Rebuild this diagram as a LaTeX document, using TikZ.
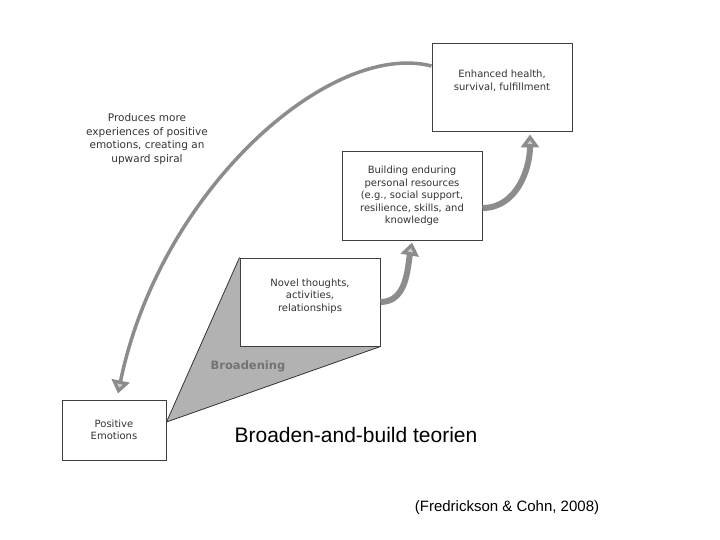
\documentclass[tikz,border=0pt]{standalone}
\usepackage{fontspec}
\setmainfont{DejaVu Sans}
\newfontfamily\capfont{Liberation Sans}
\usetikzlibrary{arrows.meta,positioning,calc,backgrounds}

\tikzset{
  stage/.style={draw=black!75, line width=1pt, fill=white, align=center,
    font=\fontsize{10}{12.5}\selectfont, text=black!80, inner sep=3pt},
  spiral/.style={draw=black!45, line width=#1, -{Triangle[length=13pt,width=18pt,fill=black!20]}},
}

\begin{document}
\begin{tikzpicture}[x=1pt, y=-1pt]
    \useasboundingbox (0,0) rectangle (720,540);

    % Stages
    \node[stage, minimum width=104pt, minimum height=60pt] (pos) at (114,430) {Positive\\Emotions};
    \node[stage, minimum width=140pt, minimum height=88pt, text depth=14pt] (novel) at (310,302) {Novel thoughts,\\activities,\\relationships};
    \node[stage, minimum width=140pt, minimum height=88pt] (build) at (412,196) {Building enduring\\personal resources\\(e.g., social support,\\resilience, skills, and\\knowledge};
    \node[stage, minimum width=140pt, minimum height=88pt, text depth=16pt] (health) at (502,88) {Enhanced health,\\survival, fulfillment};

    % Broadening wedge
    \coordinate (tip) at ($(pos.east)+(0,-8)$);
    \begin{scope}[on background layer]
        \fill[black!30] (tip) -- (novel.north west) -- (novel.south east) -- cycle;
        \draw[black!80, thick] (novel.north west) -- (tip) -- (novel.south east);
    \end{scope}
    \node[font=\bfseries\fontsize{11.5}{13}\selectfont, text=black!55] (broad) at (248,366) {Broadening};

    % Upward spiral
    \draw[spiral=6pt] (novel.east) to[out=0, in=-100] ($(build.south)+(0,2)$);
    \draw[spiral=6pt] ($(build.east)+(0,12)$) to[out=0, in=-90] ($(health.south)+(28,2)$);
    \draw[spiral=3.5pt] ($(health.west)+(0,-22)$) .. controls (330,40) and (160,190) .. ($(pos.north)+(4,-6)$);
    \node[align=center, font=\fontsize{10.5}{13.5}\selectfont, text=black!80] (loop) at (147,139) {Produces more\\experiences of positive\\emotions, creating an\\upward spiral};

    % Caption
    \node[font=\capfont\fontsize{21}{24}\selectfont] (title) at (356,435) {Broaden-and-build teorien};
    \node[font=\capfont\fontsize{15}{18}\selectfont] (cite) at (507,508) {(Fredrickson \& Cohn, 2008)};
\end{tikzpicture}
\end{document}
